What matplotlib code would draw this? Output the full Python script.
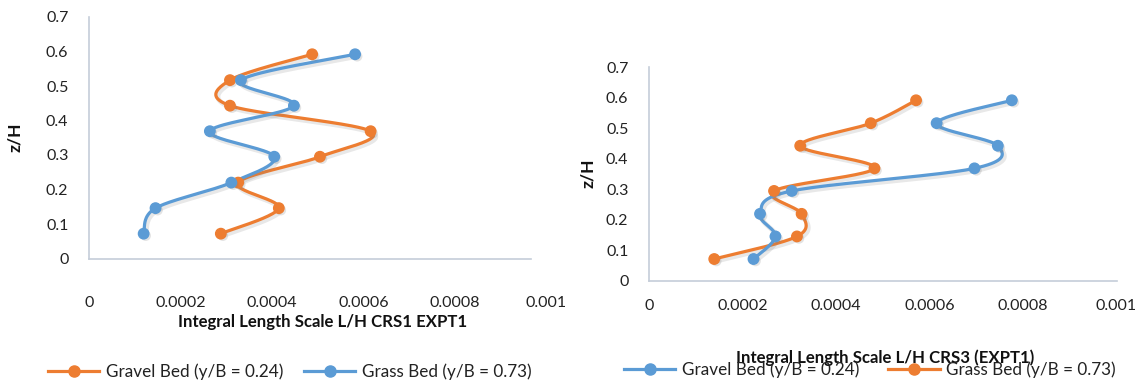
import numpy as np
import matplotlib
matplotlib.use("Agg")
import matplotlib.pyplot as plt
import matplotlib.patheffects as pe
from matplotlib.lines import Line2D

plt.rcParams['font.family'] = ['Lato', 'DejaVu Sans']

# Relative depth z/H of the measurement points (bottom to top)
z_h = [0.072, 0.146, 0.220, 0.295, 0.369, 0.443, 0.517, 0.592]

# CRS1 EXPT1: integral length scale L/H
crs1_gravel = [0.000288, 0.000415, 0.000326, 0.000505, 0.000616, 0.000308, 0.000308, 0.000488]
crs1_grass = [0.000119, 0.000145, 0.000311, 0.000405, 0.000264, 0.000448, 0.000332, 0.000582]

# CRS3 (EXPT1): integral length scale L/H
crs3_gravel = [0.000223, 0.000270, 0.000237, 0.000305, 0.000696, 0.000746, 0.000615, 0.000776]
crs3_grass = [0.000139, 0.000316, 0.000326, 0.000267, 0.000482, 0.000323, 0.000474, 0.000571]

x_ticks = [0, 0.0002, 0.0004, 0.0006, 0.0008, 0.001]
x_tick_labels = ['0', '0.0002', '0.0004', '0.0006', '0.0008', '0.001']
y_ticks = [0, 0.1, 0.2, 0.3, 0.4, 0.5, 0.6, 0.7]
y_tick_labels = ['0', '0.1', '0.2', '0.3', '0.4', '0.5', '0.6', '0.7']

ORANGE = '#ED7D31'
BLUE = '#5B9BD5'
SPINE = '#C5CDD9'
W, H = 1148, 383

fig = plt.figure(figsize=(W / 100, H / 100), dpi=100)


def px_axes(x0, y_top, x1, y_bot):
    return fig.add_axes([x0 / W, 1 - y_bot / H, (x1 - x0) / W, (y_bot - y_top) / H])


def smooth_curve(ax, xs, ys, n=40):
    """Bezier smoothing through the points, computed in display space."""
    pts = ax.transData.transform(np.column_stack([xs, ys]))
    P = np.vstack([pts[0], pts, pts[-1]])
    segs = []
    t = np.linspace(0, 1, n)[:, None]
    for i in range(1, len(P) - 2):
        p0, p1, p2, p3 = P[i - 1], P[i], P[i + 1], P[i + 2]
        c1 = p1 + (p2 - p0) / 6
        c2 = p2 - (p3 - p1) / 6
        segs.append((1 - t) ** 3 * p1 + 3 * (1 - t) ** 2 * t * c1
                    + 3 * (1 - t) * t ** 2 * c2 + t ** 3 * p2)
    curve = ax.transData.inverted().transform(np.vstack(segs))
    return curve[:, 0], curve[:, 1]


shadow = [pe.SimpleLineShadow(offset=(1.5, -1.5), shadow_color='gray', alpha=0.18, linewidth=3.5),
          pe.Normal()]


def draw_series(ax, xs, ys, color):
    cx, cy = smooth_curve(ax, xs, ys)
    ax.plot(cx, cy, color=color, lw=2.3, solid_capstyle='round', path_effects=shadow, zorder=3)
    ax.plot(xs, ys, ls='none', marker='o', ms=7.5, color=color, mec=color,
            path_effects=[pe.SimplePatchShadow(offset=(1.5, -1.5), shadow_rgbFace='gray', alpha=0.22),
                          pe.Normal()], zorder=4)


def style_axes(ax, xpad, ypad, xend):
    ax.set_xlim(0, 0.001)
    ax.set_ylim(0, 0.7)
    ax.set_xticks(x_ticks)
    ax.set_xticklabels(x_tick_labels)
    ax.set_yticks(y_ticks)
    ax.set_yticklabels(y_tick_labels)
    for s in ('top', 'right'):
        ax.spines[s].set_visible(False)
    for s in ('left', 'bottom'):
        ax.spines[s].set_color(SPINE)
        ax.spines[s].set_linewidth(1.2)
    ax.spines['bottom'].set_bounds(0, xend)
    ax.tick_params(length=0, labelsize=11.5, colors='#222222')
    ax.tick_params(axis='x', pad=xpad)
    ax.tick_params(axis='y', pad=ypad)
    ax.set_facecolor('none')


def legend_handle(color, label):
    return Line2D([], [], color=color, lw=2.3, marker='o', ms=8, label=label)


# Left panel: CRS1 EXPT1
ax1 = px_axes(89.3, 17, 546, 258.5)
style_axes(ax1, xpad=27, ypad=15, xend=0.000968)
draw_series(ax1, crs1_gravel, z_h, ORANGE)
draw_series(ax1, crs1_grass, z_h, BLUE)
fig.text(323 / W, 1 - 322 / H, 'Integral Length Scale L/H CRS1 EXPT1', ha='center', va='center',
         fontsize=12.1, fontweight='bold', color='#111111')
fig.text(15 / W, 1 - 137 / H, 'z/H', rotation=90, ha='center', va='center',
         fontsize=12.5, fontweight='bold', color='#111111')
fig.legend(handles=[legend_handle(ORANGE, 'Gravel Bed (y/B = 0.24)'),
                    legend_handle(BLUE, 'Grass Bed (y/B = 0.73)')],
           loc='center', bbox_to_anchor=(290 / W, 1 - 372 / H), ncol=2, frameon=False,
           fontsize=12.3, handlelength=3.0, handletextpad=0.4, columnspacing=1.2,
           labelcolor='#222222')

# Right panel: CRS3 (EXPT1)
ax2 = px_axes(649.3, 67.3, 1116.5, 281)
style_axes(ax2, xpad=13, ypad=15, xend=0.001)
draw_series(ax2, crs3_grass, z_h, ORANGE)
draw_series(ax2, crs3_gravel, z_h, BLUE)
fig.legend(handles=[legend_handle(BLUE, 'Gravel Bed (y/B = 0.24)'),
                    legend_handle(ORANGE, 'Grass Bed (y/B = 0.73)')],
           loc='center', bbox_to_anchor=(870 / W, 1 - 370 / H), ncol=2, frameon=False,
           fontsize=12.3, handlelength=3.0, handletextpad=0.4, columnspacing=1.7,
           labelcolor='#222222')
fig.text(885 / W, 1 - 358 / H, 'Integral Length Scale L/H CRS3 (EXPT1)', ha='center', va='center',
         fontsize=12.1, fontweight='bold', color='#111111', zorder=5)
fig.text(588 / W, 1 - 173 / H, 'z/H', rotation=90, ha='center', va='center',
         fontsize=12.5, fontweight='bold', color='#111111')

fig.savefig('out.png', dpi=100, facecolor='white')
